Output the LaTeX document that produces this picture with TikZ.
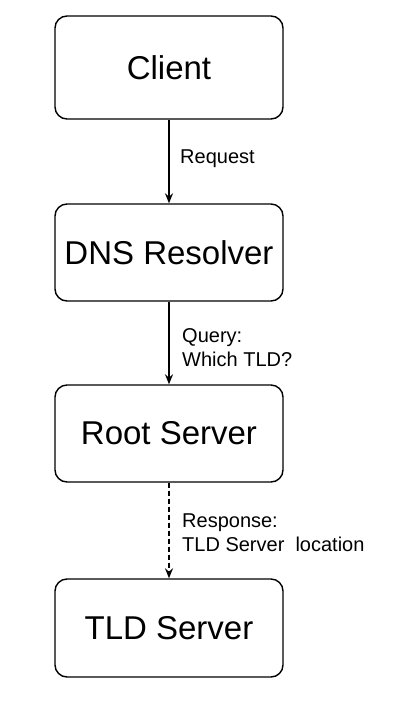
\documentclass[tikz,border=0pt]{standalone}
\usepackage{fontspec}
\setmainfont{Liberation Sans}
\usetikzlibrary{arrows.meta}
\begin{document}
\begin{tikzpicture}[x=1pt,y=-1pt,
  box/.style={draw, line width=1.4pt, rounded corners=12pt, minimum width=228pt, inner sep=0pt, font=\fontsize{33}{40}\selectfont},
  conn/.style={line width=1.4pt, -{Stealth[length=10pt,width=8pt]}},
  lbl/.style={anchor=west, align=left, inner sep=0pt, font=\fontsize{20}{24}\selectfont}]
\useasboundingbox[fill=white] (0,0) rectangle (400,721);
\node[box, minimum height=103pt] (client) at (169,67.5) {Client};
\node[box, minimum height=97pt] (dns) at (169,252.5) {DNS Resolver};
\node[box, minimum height=97pt] (root) at (169,433.5) {Root Server};
\node[box, minimum height=98pt] (tld) at (169,628) {TLD Server};
\draw[conn] (client) -- (dns);
\draw[conn] (dns) -- (root);
\draw[conn, dashed, dash pattern=on 5pt off 3pt] (root) -- (tld);
\node[lbl] (l1) at (180,159) {Request};
\node[lbl] (l2) at (182,347.5) {Query:\\Which TLD?};
\node[lbl] (l3) at (182,533) {Response:\\TLD Server\ \ location};
\end{tikzpicture}
\end{document}
